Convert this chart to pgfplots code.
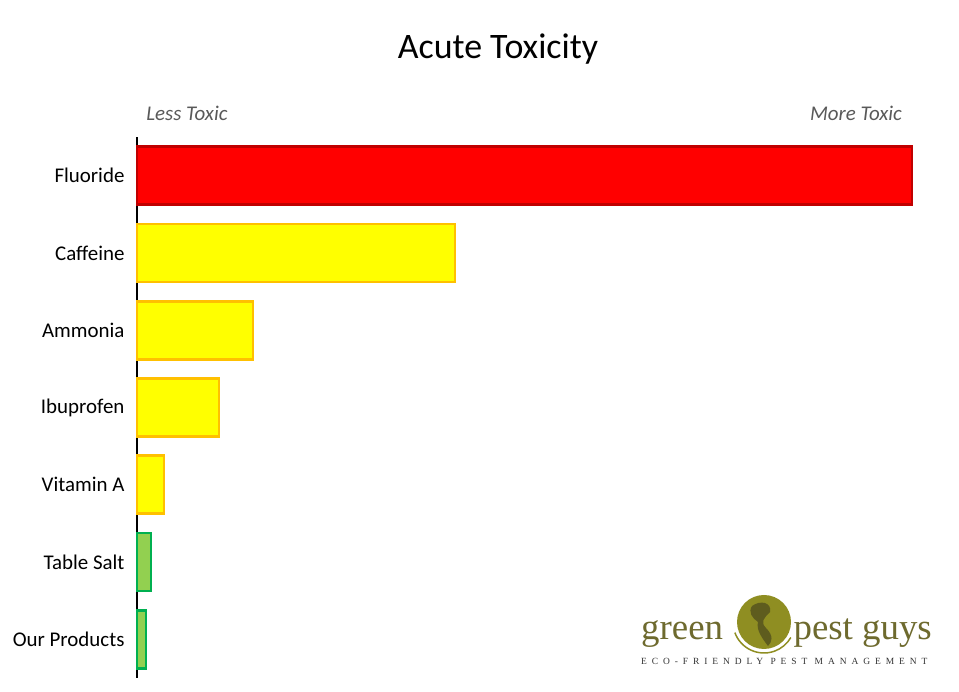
\documentclass[border=0pt]{standalone}
\usepackage{fontspec}
\setmainfont{Carlito}
\newfontfamily\logofont{Liberation Serif}
\newfontfamily\tagfont[LetterSpace=52]{Liberation Serif}
\usepackage{pgfplots}
\pgfplotsset{compat=1.18}

\definecolor{redfill}{HTML}{FF0000}
\definecolor{redline}{HTML}{C00000}
\definecolor{yelfill}{HTML}{FFFF00}
\definecolor{yelline}{HTML}{FFC000}
\definecolor{grnfill}{HTML}{92D050}
\definecolor{grnline}{HTML}{00B050}
\definecolor{hint}{HTML}{595959}
\definecolor{olive}{HTML}{6E6A2E}
\definecolor{globe}{HTML}{8F8E22}
\definecolor{globedark}{HTML}{5E5C1E}

\begin{document}
\begin{tikzpicture}[x=1bp,y=1bp]
\useasboundingbox (0,0) rectangle (959,692);

\begin{axis}[
    at={(137bp,14bp)}, anchor=south west,
    scale only axis,
    width=775bp, height=541bp,
    xbar, bar shift=0pt, bar width=0.75,
    xmin=0, xmax=775,
    ymin=-0.5, ymax=6.5,
    axis x line=none,
    axis y line*=left,
    y axis line style={black, line width=1.6bp},
    ytick={0,...,6},
    yticklabels={Our Products, Table Salt, Vitamin A, Ibuprofen, Ammonia, Caffeine, Fluoride},
    major tick length=0pt,
    yticklabel style={font=\fontsize{21}{21}\selectfont, black, xshift=-9bp},
    clip=false,
]
\addplot[fill=redfill, draw=redline, line width=2.8bp] coordinates {(775,6)};
\addplot[fill=yelfill, draw=yelline, line width=2.8bp] coordinates {(318,5) (116,4) (82,3) (27,2)};
\addplot[fill=grnfill, draw=grnline, line width=2.8bp] coordinates {(14,1) (9,0)};
\end{axis}

\node at (498,643) {\fontsize{36}{36}\selectfont Acute Toxicity};
\node[text=hint] at (187,579) {\fontsize{21}{21}\selectfont\itshape Less Toxic};
\node[text=hint] at (856,579) {\fontsize{21}{21}\selectfont\itshape More Toxic};

% logo
\node[anchor=base west, text=olive, inner sep=0] at (641,52) {\logofont\fontsize{37}{37}\selectfont green};
\node[anchor=base east, text=olive, inner sep=0] at (932,52) {\logofont\fontsize{37}{37}\selectfont pest guys};
\fill[globe] (764,70) circle (27);
\draw[globe, line width=1.5bp] (764,70) ++(200:31) arc (200:330:31);
\fill[globedark] (752,86) .. controls (760,92) and (772,90) .. (770,80) .. controls (764,74) and (760,70) .. (766,64)
   .. controls (774,56) and (772,50) .. (768,46) .. controls (762,54) and (756,62) .. (758,70) .. controls (752,74) and (748,80) .. cycle;
\node[anchor=base west, text=black!80, inner sep=0] at (641,27) {\tagfont\fontsize{9.5}{9.5}\selectfont ECO-FRIENDLY PEST MANAGEMENT};
\end{tikzpicture}
\end{document}
